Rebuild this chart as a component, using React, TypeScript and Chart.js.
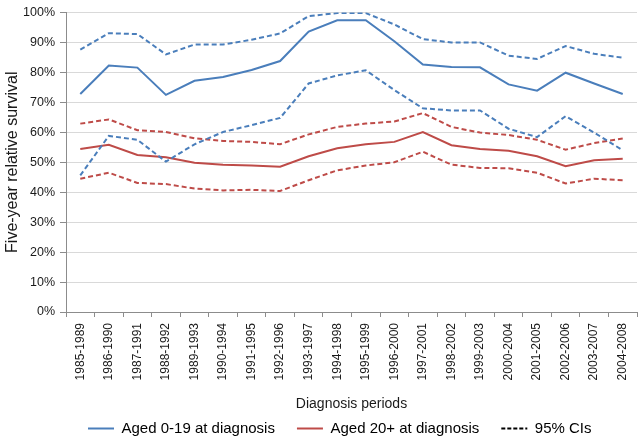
import React, { useEffect, useRef } from "react";
import { Chart, registerables } from "chart.js";

Chart.register(...registerables);

const categories = [
  "1985-1989", "1986-1990", "1987-1991", "1988-1992", "1989-1993",
  "1990-1994", "1991-1995", "1992-1996", "1993-1997", "1994-1998",
  "1995-1999", "1996-2000", "1997-2001", "1998-2002", "1999-2003",
  "2000-2004", "2001-2005", "2002-2006", "2003-2007", "2004-2008",
];

const young = [72.8, 82.3, 81.6, 72.5, 77.2, 78.5, 80.8, 83.8, 93.6, 97.4, 97.4, 90.4, 82.6, 81.8, 81.7, 76.0, 73.9, 79.9, 76.3, 72.8];
const youngUpper = [87.6, 93.1, 92.8, 86.0, 89.3, 89.3, 90.9, 93.0, 98.8, 99.8, 99.8, 96.0, 91.1, 90.0, 90.0, 85.6, 84.5, 88.8, 86.2, 84.9];
const youngLower = [45.6, 58.8, 57.5, 50.2, 56.0, 60.1, 62.4, 64.8, 76.3, 79.0, 80.7, 74.1, 68.0, 67.3, 67.3, 61.2, 58.4, 65.4, 59.9, 54.0];

const adult = [54.4, 55.8, 52.4, 51.7, 49.8, 49.2, 48.9, 48.5, 52.0, 54.7, 56.0, 56.8, 60.1, 55.7, 54.4, 53.8, 52.0, 48.7, 50.7, 51.2];
const adultUpper = [62.9, 64.3, 60.7, 60.1, 58.0, 57.1, 56.8, 56.0, 59.3, 61.8, 62.9, 63.6, 66.4, 61.8, 59.9, 59.1, 57.5, 54.2, 56.4, 57.9];
const adultLower = [44.5, 46.5, 43.1, 42.7, 41.2, 40.6, 40.8, 40.4, 44.0, 47.3, 48.9, 50.0, 53.5, 49.2, 48.1, 48.0, 46.5, 42.9, 44.5, 44.0];

const yTicks = [0, 10, 20, 30, 40, 50, 60, 70, 80, 90, 100];

const legendLabels = ["Aged 0-19 at diagnosis", "Aged 20+ at diagnosis", "95% CIs"];

const BLUE = "#4a7ebb";
const RED = "#be4b48";
const DASH = [5, 3];
const FONT = "'Liberation Sans', Arial, sans-serif";

export default function App() {
  const canvasRef = useRef<HTMLCanvasElement | null>(null);

  useEffect(() => {
    if (!canvasRef.current) return;
    const mk = (label: string, data: number[], color: string, dashed: boolean) => ({
      label,
      data,
      borderColor: color,
      backgroundColor: color,
      borderWidth: 2,
      borderDash: dashed ? DASH : [],
      pointRadius: 0,
      pointHoverRadius: 0,
      tension: 0,
      fill: false,
    });

    const chart = new Chart(canvasRef.current, {
      type: "line",
      data: {
        labels: categories,
        datasets: [
          mk("Aged 0-19 upper", youngUpper, BLUE, true),
          mk("Aged 0-19 lower", youngLower, BLUE, true),
          mk("Aged 20+ upper", adultUpper, RED, true),
          mk("Aged 20+ lower", adultLower, RED, true),
          mk(legendLabels[0], young, BLUE, false),
          mk(legendLabels[1], adult, RED, false),
        ],
      },
      options: {
        responsive: false,
        animation: false,
        events: [],
        layout: { padding: { top: 8, right: 1, left: 0, bottom: 0 } },
        plugins: {
          tooltip: { enabled: false },
          legend: {
            position: "bottom",
            align: "start",
            fullSize: false,
            maxHeight: 40,
            labels: {
              usePointStyle: true,
              pointStyleWidth: 26,
              padding: 22,
              color: "#1a1a1a",
              font: { family: FONT, size: 15 },
              generateLabels: () => [
                { text: legendLabels[0], strokeStyle: BLUE, fillStyle: BLUE, lineWidth: 2, lineDash: [], pointStyle: "line", hidden: false, datasetIndex: 4 },
                { text: legendLabels[1], strokeStyle: RED, fillStyle: RED, lineWidth: 2, lineDash: [], pointStyle: "line", hidden: false, datasetIndex: 5 },
                { text: legendLabels[2], strokeStyle: "#000", fillStyle: "#000", lineWidth: 2, lineDash: [4, 2], pointStyle: "line", hidden: false, datasetIndex: 0 },
              ] as any,
            },
          },
        },
        scales: {
          x: {
            type: "category",
            offset: true,
            grid: {
              display: true,
              drawOnChartArea: false,
              offset: true,
              tickLength: 5,
              color: "#8c8c8c",
            },
            border: { color: "#8c8c8c", width: 1 },
            ticks: {
              minRotation: 90,
              maxRotation: 90,
              autoSkip: false,
              padding: 6,
              color: "#1a1a1a",
              font: { family: FONT, size: 12 },
            },
            title: {
              display: true,
              text: "Diagnosis periods",
              color: "#1a1a1a",
              font: { family: FONT, size: 14 },
              padding: { top: 0, bottom: -13.5 },
            },
            afterFit: (scale: any) => {
              scale.height = 87;
              scale.paddingLeft = 0;
              scale.paddingRight = 0;
            },
          },
          y: {
            min: 0,
            max: 100,
            afterBuildTicks: (scale: any) => {
              scale.ticks = yTicks.map((v) => ({ value: v }));
            },
            grid: {
              color: "#d9d9d9",
              tickColor: "#8c8c8c",
              tickLength: 6,
              lineWidth: 1,
            },
            border: { color: "#8c8c8c", width: 1 },
            ticks: {
              padding: 5,
              color: "#1a1a1a",
              font: { family: FONT, size: 12.5 },
              callback: (v: any) => v + "%",
            },
            title: {
              display: true,
              text: "Five-year relative survival",
              color: "#1a1a1a",
              font: { family: FONT, size: 16 },
              padding: { top: 2.5, bottom: 0 },
            },
            afterFit: (scale: any) => {
              scale.width = 66;
            },
          },
        },
      },
    });
    return () => chart.destroy();
  }, []);

  return (
    <div style={{ position: "absolute", left: 0, top: 0, width: 638, height: 439, background: "#fff" }}>
      <canvas ref={canvasRef} width={638} height={439} style={{ display: "block" }} />
    </div>
  );
}
